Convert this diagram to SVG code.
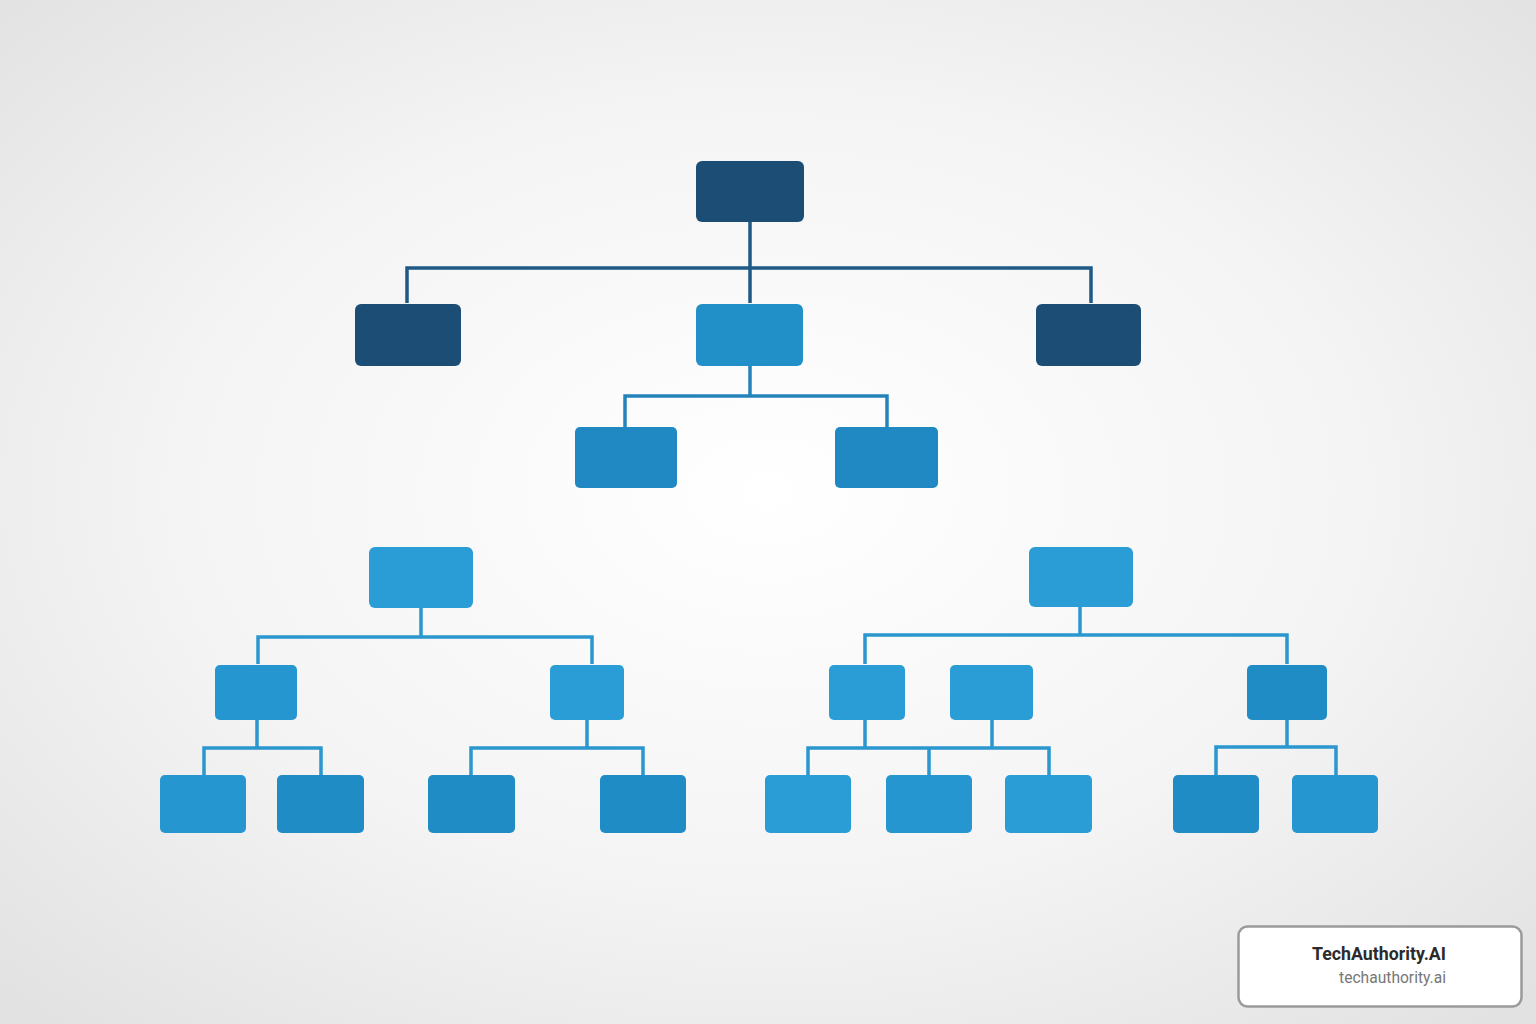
<svg xmlns="http://www.w3.org/2000/svg" width="1536" height="1024" viewBox="0 0 1536 1024">
<defs>
<radialGradient id="bg" cx="50%" cy="48%" r="70%">
<stop offset="0" stop-color="#ffffff"/>
<stop offset="0.55" stop-color="#f4f4f4"/>
<stop offset="1" stop-color="#e2e2e2"/>
</radialGradient>
<style>
.dark{fill:#1b4d75}
.mid{fill:#2190c8}
.l3{fill:#2089c4}
.b1{fill:#2a9dd6}
.b2{fill:#2596d0}
.b3{fill:#208cc6}
.c-dark{stroke:#1e5a85;stroke-width:3.5;fill:none}
.c-mid{stroke:#2484ba;stroke-width:3.5;fill:none}
.c-b{stroke:#2a97cf;stroke-width:3.5;fill:none}
.wm1{font-family:Roboto,"Liberation Sans",sans-serif;font-weight:bold;font-size:17.8px;fill:#2b2b2b}
.wm2{font-family:Roboto,"Liberation Sans",sans-serif;font-size:15.6px;fill:#777}
</style>
</defs>
<rect width="1536" height="1024" fill="url(#bg)"/>
<g id="connectors">
<path class="c-dark" d="M750 222 V303 M407 303 V268 H1091 V303"/>
<path class="c-mid" d="M750 366 V396 M625 427 V396 H887 V427"/>
<path class="c-b" d="M421 608 V637 M258 664 V637 H592 V664"/>
<path class="c-b" d="M257 720 V748 M204 775 V748 H321 V775"/>
<path class="c-b" d="M587 720 V748 M471 775 V748 H643 V775"/>
<path class="c-b" d="M1080 607 V635 M865 664 V635 H1287 V664"/>
<path class="c-b" d="M865 720 V748 M992 720 V748 M808 775 V748 H1049 V775 M929 748 V775"/>
<path class="c-b" d="M1287 720 V747 M1216 775 V747 H1336 V775"/>
</g>
<g id="n-root"><rect class="dark" x="696" y="161" width="108" height="61" rx="6"/></g>
<g id="n-l2a"><rect class="dark" x="355" y="304" width="106" height="62" rx="6"/></g>
<g id="n-l2b"><rect class="mid" x="696" y="304" width="107" height="62" rx="6"/></g>
<g id="n-l2c"><rect class="dark" x="1036" y="304" width="105" height="62" rx="6"/></g>
<g id="n-l3a"><rect class="l3" x="575" y="427" width="102" height="61" rx="5"/></g>
<g id="n-l3b"><rect class="l3" x="835" y="427" width="103" height="61" rx="5"/></g>
<g id="n-bl-root"><rect class="b1" x="369" y="547" width="104" height="61" rx="6"/></g>
<g id="n-bl-a"><rect class="b2" x="215" y="665" width="82" height="55" rx="5"/></g>
<g id="n-bl-b"><rect class="b1" x="550" y="665" width="74" height="55" rx="5"/></g>
<g id="n-bl-a1"><rect class="b2" x="160" y="775" width="86" height="58" rx="5"/></g>
<g id="n-bl-a2"><rect class="b3" x="277" y="775" width="87" height="58" rx="5"/></g>
<g id="n-bl-b1"><rect class="b3" x="428" y="775" width="87" height="58" rx="5"/></g>
<g id="n-bl-b2"><rect class="b3" x="600" y="775" width="86" height="58" rx="5"/></g>
<g id="n-br-root"><rect class="b1" x="1029" y="547" width="104" height="60" rx="6"/></g>
<g id="n-br-a"><rect class="b1" x="829" y="665" width="76" height="55" rx="5"/></g>
<g id="n-br-b"><rect class="b1" x="950" y="665" width="83" height="55" rx="5"/></g>
<g id="n-br-c"><rect class="b3" x="1247" y="665" width="80" height="55" rx="5"/></g>
<g id="n-br-a1"><rect class="b1" x="765" y="775" width="86" height="58" rx="5"/></g>
<g id="n-br-a2"><rect class="b2" x="886" y="775" width="86" height="58" rx="5"/></g>
<g id="n-br-a3"><rect class="b1" x="1005" y="775" width="87" height="58" rx="5"/></g>
<g id="n-br-c1"><rect class="b3" x="1173" y="775" width="86" height="58" rx="5"/></g>
<g id="n-br-c2"><rect class="b2" x="1292" y="775" width="86" height="58" rx="5"/></g>
<g id="watermark">
<rect x="1238.5" y="926.5" width="283" height="80" rx="9" fill="#ffffff" stroke="#9a9a9a" stroke-width="2.5"/>
<text class="wm1" x="1446" y="960" text-anchor="end">TechAuthority.AI</text>
<text class="wm2" x="1446" y="983" text-anchor="end">techauthority.ai</text>
</g>
</svg>
